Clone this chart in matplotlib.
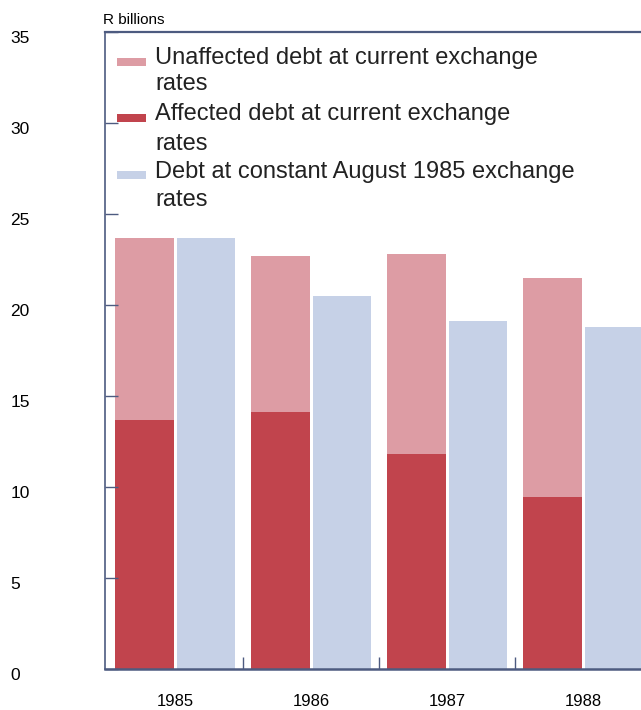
import matplotlib.pyplot as plt
from matplotlib.patches import Rectangle
from matplotlib.transforms import ScaledTranslation
import numpy as np

plt.rcParams['font.family'] = ['Liberation Sans', 'DejaVu Sans']

years = ['1985', '1986', '1987', '1988']
affected = [13.7, 14.1, 11.8, 9.45]
unaffected = [10.0, 8.6, 11.0, 12.05]
constant_1985 = [23.7, 20.5, 19.1, 18.8]

legend_labels = ['Unaffected debt at current exchange\nrates',
                 'Affected debt at current exchange\nrates',
                 'Debt at constant August 1985 exchange\nrates']

c_unaff = '#dd9ca4'
c_aff = '#c1444d'
c_const = '#c6d1e7'
c_axis = '#4d5b80'

fig = plt.figure(figsize=(6.41, 7.10), dpi=100)
ax = fig.add_axes([105 / 641, 41 / 710, 560 / 641, 637 / 710])

x = np.arange(len(years))
off = 0.227
w = 0.43
ax.bar(x - off, affected, w, color=c_aff, linewidth=0)
ax.bar(x - off, unaffected, w, bottom=affected, color=c_unaff, linewidth=0)
ax.bar(x + off, constant_1985, w, color=c_const, linewidth=0)

ax.set_xlim(-0.517, 3.6)
ax.set_ylim(0, 35)

for side in ['left', 'top', 'bottom']:
    ax.spines[side].set_color(c_axis)
ax.spines['left'].set_linewidth(1.2)
ax.spines['top'].set_linewidth(1.6)
ax.spines['bottom'].set_linewidth(1.8)
ax.spines['right'].set_visible(False)

# y ticks point inward, labels pushed out to the left edge
ax.set_yticks(range(0, 36, 5))
ax.tick_params(axis='y', direction='in', length=9, width=1, color=c_axis,
               pad=68, labelsize=12.5)
for lab in ax.get_yticklabels():
    lab.set_horizontalalignment('left')
    lab.set_transform(lab.get_transform() + ScaledTranslation(0, -5 / 100, fig.dpi_scale_trans))

# years under each pair, small separators between groups
ax.set_xticks(x)
ax.set_xticklabels(years)
ax.tick_params(axis='x', which='major', length=0, pad=18, labelsize=12)
ax.set_xticks(x[:-1] + 0.5, minor=True)
ax.tick_params(axis='x', which='minor', direction='in', length=9, width=1, color=c_axis)

fig.text(103 / 641, 1 - 20 / 710, 'R billions', fontsize=11, va='center', ha='left')

# legend drawn by hand so each swatch sits on the first text line
colors = [c_unaff, c_aff, c_const]
swatch_y = [62, 118, 175]
text_y = [71, 129, 186]
spacing = [1.22, 1.5, 1.36]
for col, sy, ty, sp, lab in zip(colors, swatch_y, text_y, spacing, legend_labels):
    fig.patches.append(Rectangle((117 / 641, 1 - (sy + 4) / 710), 29 / 641, 8 / 710,
                                 transform=fig.transFigure, color=col, linewidth=0))
    fig.text(155 / 641, 1 - ty / 710, lab, fontsize=17, va='center', ha='left',
             linespacing=sp, color='#222222')

fig.savefig('out.png', dpi=100)
